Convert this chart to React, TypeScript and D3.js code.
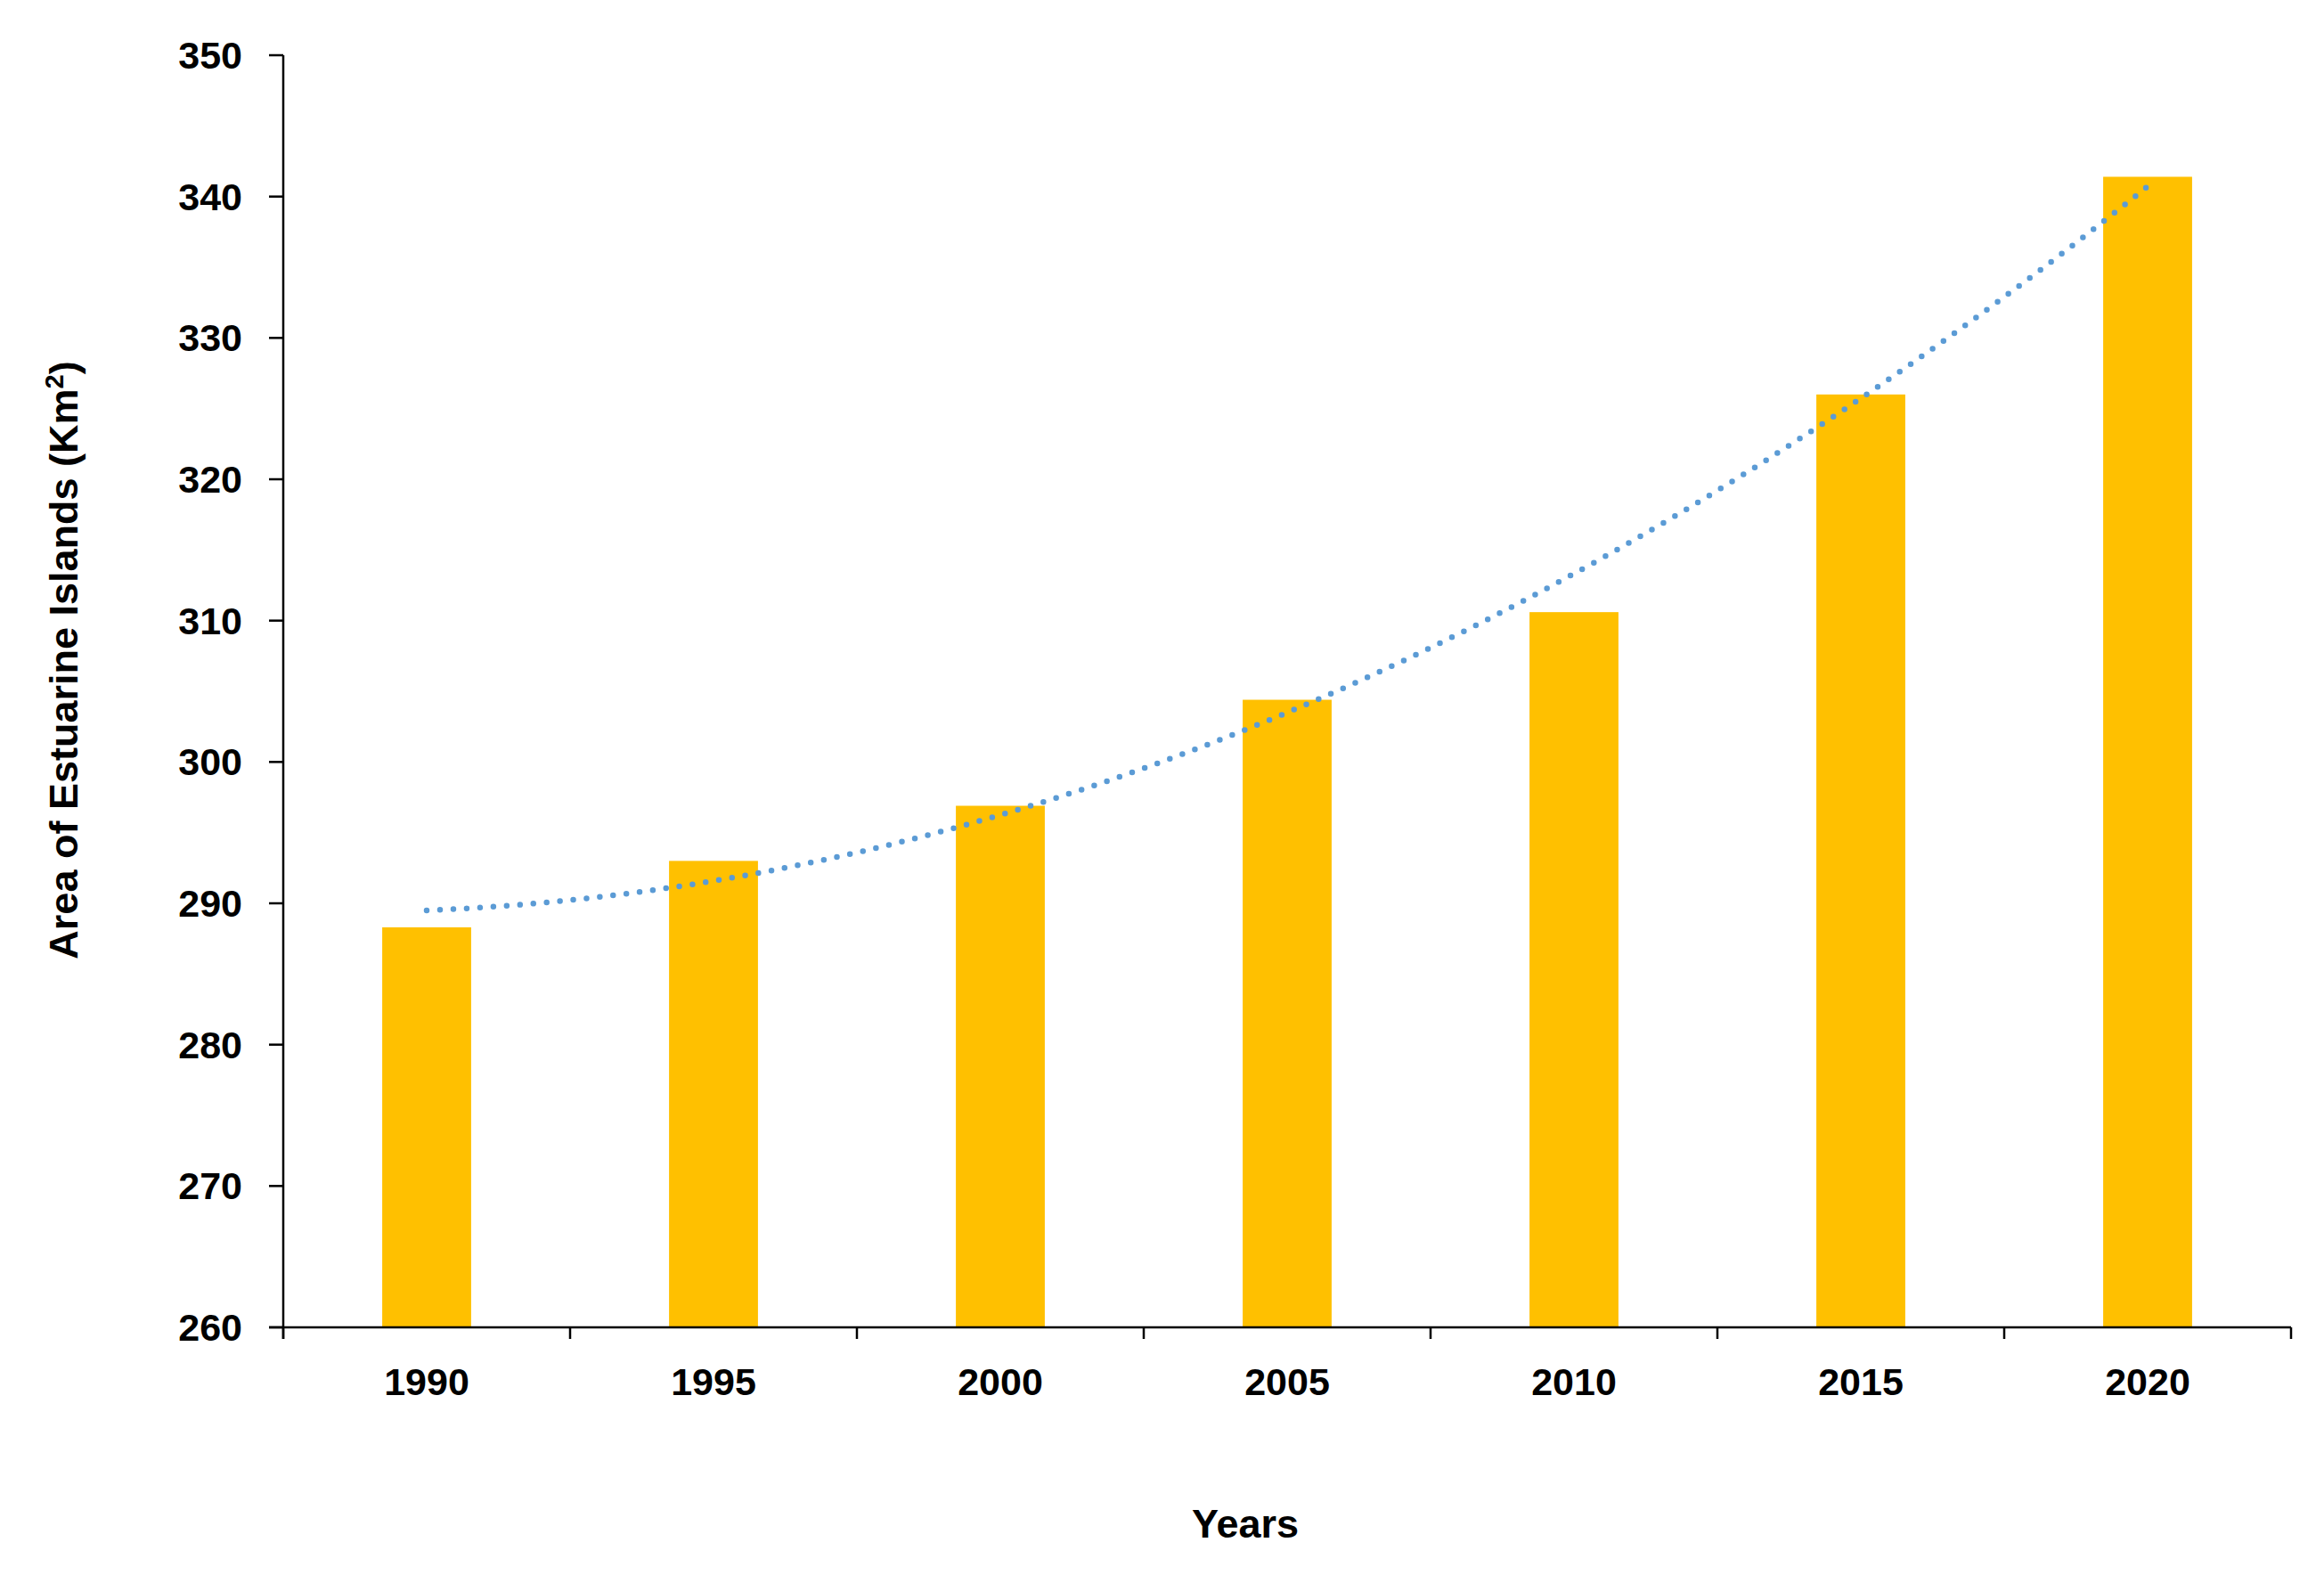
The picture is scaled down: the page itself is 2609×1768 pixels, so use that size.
import React from "react";
import * as d3 from "d3";

const years: string[] = ["1990", "1995", "2000", "2005", "2010", "2015", "2020"];
const areas: number[] = [288.3, 293.0, 296.9, 304.4, 310.6, 326.0, 341.4];
const yTicks: number[] = [260, 270, 280, 290, 300, 310, 320, 330, 340, 350];

const W = 2609;
const H = 1768;
const left = 318;
const right = 2572;
const top = 62;
const bottom = 1490;
const FONT = "'Liberation Sans', Arial, sans-serif";

function quadFit(ys: number[]) {
  // least-squares polynomial (order 2) trendline, x = 1..n
  const n = ys.length;
  let s = [0, 0, 0, 0, 0];
  let t = [0, 0, 0];
  ys.forEach((y, i) => {
    const x = i + 1;
    for (let k = 0; k <= 4; k++) s[k] += Math.pow(x, k);
    for (let k = 0; k <= 2; k++) t[k] += Math.pow(x, k) * y;
  });
  const A = [
    [s[0], s[1], s[2], t[0]],
    [s[1], s[2], s[3], t[1]],
    [s[2], s[3], s[4], t[2]],
  ];
  for (let i = 0; i < 3; i++) {
    for (let j = i + 1; j < 3; j++) {
      const f = A[j][i] / A[i][i];
      for (let k = i; k < 4; k++) A[j][k] -= f * A[i][k];
    }
  }
  const c = [0, 0, 0];
  for (let i = 2; i >= 0; i--) {
    let v = A[i][3];
    for (let k = i + 1; k < 3; k++) v -= A[i][k] * c[k];
    c[i] = v / A[i][i];
  }
  return (x: number) => c[0] + c[1] * x + c[2] * x * x;
}

export default function App() {
  const x = d3.scaleBand<string>().domain(years).range([left, right]).paddingInner(0.69).paddingOuter(0.345);
  const y = d3.scaleLinear().domain([260, 350]).range([bottom, top]);
  const step = x.step();
  const fit = quadFit(areas);
  const xi = d3.scaleLinear().domain([1, years.length]).range([
    (x(years[0]) as number) + x.bandwidth() / 2,
    (x(years[years.length - 1]) as number) + x.bandwidth() / 2,
  ]);
  const pts = d3.range(1, years.length + 0.0001, 0.05).map((v) => [xi(v), y(fit(v))] as [number, number]);
  const line = d3.line().curve(d3.curveLinear)(pts) || "";
  const boundaries = d3.range(0, years.length + 1).map((k) => left + k * step);

  return (
    <svg width={W} height={H} style={{ position: "absolute", left: 0, top: 0, background: "#fff" }}>
      <rect x={0} y={0} width={W} height={H} fill="#fff" />
      {years.map((yr, i) => (
        <rect key={yr} x={x(yr)} y={y(areas[i])} width={x.bandwidth()} height={bottom - y(areas[i])} fill="#FFC000" />
      ))}
      <path d={line} fill="none" stroke="#5B9BD5" strokeWidth={6.5} strokeLinecap="round" strokeDasharray="0 15" />
      {/* y axis */}
      <line x1={left} x2={left} y1={top} y2={bottom + 13} stroke="#000" strokeWidth={2.5} />
      {yTicks.map((t) => (
        <g key={t}>
          <line x1={left - 16} x2={left} y1={y(t)} y2={y(t)} stroke="#000" strokeWidth={2.5} />
          <text x={272} y={y(t) + 15} textAnchor="end" fontFamily={FONT} fontWeight="bold" fontSize={43} fill="#000">
            {t}
          </text>
        </g>
      ))}
      {/* x axis */}
      <line x1={left - 16} x2={right} y1={bottom} y2={bottom} stroke="#000" strokeWidth={2.5} />
      {boundaries.map((bx, k) => (
        <line key={k} x1={bx} x2={bx} y1={bottom} y2={bottom + 13} stroke="#000" strokeWidth={2.5} />
      ))}
      {years.map((yr) => (
        <text key={yr} x={(x(yr) as number) + x.bandwidth() / 2} y={1566} textAnchor="middle" fontFamily={FONT} fontWeight="bold" fontSize={43} fill="#000">
          {yr}
        </text>
      ))}
      <text x={1398} y={1726} textAnchor="middle" fontFamily={FONT} fontWeight="bold" fontSize={45} fill="#000">
        Years
      </text>
      <text transform="translate(87,741) rotate(-90)" textAnchor="middle" fontFamily={FONT} fontWeight="bold" fontSize={45} fill="#000">
        Area of Estuarine Islands (Km<tspan fontSize={29} dy={-16}>2</tspan><tspan dy={16}>)</tspan>
      </text>
    </svg>
  );
}
